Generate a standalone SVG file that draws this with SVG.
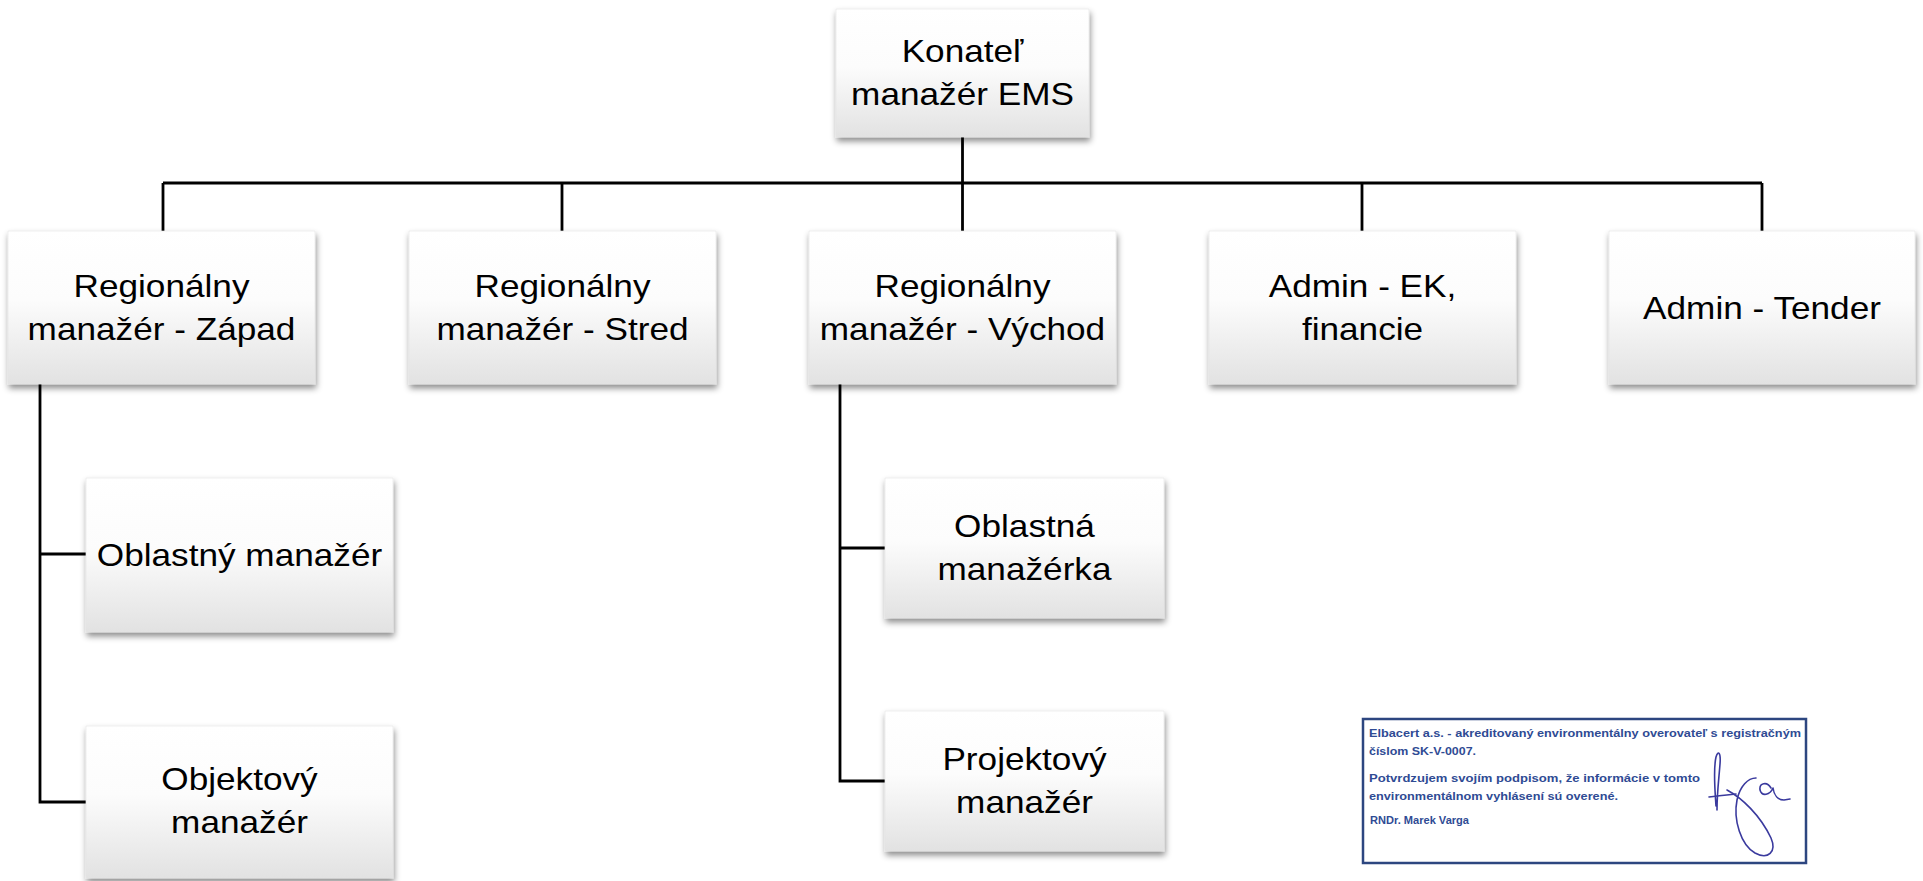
<svg xmlns="http://www.w3.org/2000/svg" width="1923" height="881" viewBox="0 0 1923 881">
<defs>
<linearGradient id="boxg" x1="0" y1="0" x2="0" y2="1">
<stop offset="0" stop-color="#ffffff"/>
<stop offset="0.45" stop-color="#fcfcfc"/>
<stop offset="1" stop-color="#e2e2e2"/>
</linearGradient>
<filter id="sh" x="-10%" y="-10%" width="125%" height="130%">
<feDropShadow dx="1" dy="4" stdDeviation="3" flood-color="#000" flood-opacity="0.45"/>
</filter>
</defs>
<style>
.box{fill:url(#boxg);stroke:#e4e4e4;stroke-width:0.6;filter:url(#sh)}
.t{font-family:"Liberation Sans",Arial,sans-serif;font-size:31px;fill:#000;text-anchor:middle}
.c{fill:none;stroke:#000;stroke-width:2.8}
.s{font-family:"Liberation Sans",Arial,sans-serif;font-size:11px;font-weight:bold;fill:#2f4b94}
.sig{fill:none;stroke:#3a3a9e;stroke-width:1.6;stroke-linecap:round;stroke-linejoin:round}
</style>
<rect width="1923" height="881" fill="#fff"/>
<g id="connectors">
<path class="c" d="M962.5,137 V231"/>
<path class="c" d="M163,183 H1762"/>
<path class="c" d="M163,183 V231 M562,183 V231 M1362,183 V231 M1762,183 V231"/>
<path class="c" d="M40,384 V802 H86 M40,554 H86"/>
<path class="c" d="M840,384 V781 H885 M840,548 H885"/>
</g>
<g id="n-konatel">
<rect class="box" x="836" y="9" width="253" height="128"/>
<text class="t" transform="translate(962.5,62) scale(1.135,1)">Konateľ</text>
<text class="t" transform="translate(962.5,105) scale(1.135,1)">manažér EMS</text>
</g>
<g id="n-zapad">
<rect class="box" x="8" y="231" width="307" height="153"/>
<text class="t" transform="translate(161.5,297) scale(1.135,1)">Regionálny</text>
<text class="t" transform="translate(161.5,340) scale(1.135,1)">manažér - Západ</text>
</g>
<g id="n-stred">
<rect class="box" x="409" y="231" width="307" height="153"/>
<text class="t" transform="translate(562.5,297) scale(1.135,1)">Regionálny</text>
<text class="t" transform="translate(562.5,340) scale(1.135,1)">manažér - Stred</text>
</g>
<g id="n-vychod">
<rect class="box" x="809" y="231" width="307" height="153"/>
<text class="t" transform="translate(962.5,297) scale(1.135,1)">Regionálny</text>
<text class="t" transform="translate(962.5,340) scale(1.135,1)">manažér - Východ</text>
</g>
<g id="n-admin-ek">
<rect class="box" x="1209" y="231" width="307" height="153"/>
<text class="t" transform="translate(1362.5,297) scale(1.135,1)">Admin - EK,</text>
<text class="t" transform="translate(1362.5,340) scale(1.135,1)">financie</text>
</g>
<g id="n-admin-tender">
<rect class="box" x="1609" y="231" width="306" height="153"/>
<text class="t" transform="translate(1762,319) scale(1.135,1)">Admin - Tender</text>
</g>
<g id="n-oblastny">
<rect class="box" x="86" y="478" width="307" height="154"/>
<text class="t" transform="translate(239.5,566) scale(1.135,1)">Oblastný manažér</text>
</g>
<g id="n-objektovy">
<rect class="box" x="86" y="726" width="307" height="152"/>
<text class="t" transform="translate(239.5,790) scale(1.135,1)">Objektový</text>
<text class="t" transform="translate(239.5,833) scale(1.135,1)">manažér</text>
</g>
<g id="n-oblastna">
<rect class="box" x="885" y="478" width="279" height="140"/>
<text class="t" transform="translate(1024.5,537) scale(1.135,1)">Oblastná</text>
<text class="t" transform="translate(1024.5,580) scale(1.135,1)">manažérka</text>
</g>
<g id="n-projektovy">
<rect class="box" x="885" y="711" width="279" height="140"/>
<text class="t" transform="translate(1024.5,770) scale(1.135,1)">Projektový</text>
<text class="t" transform="translate(1024.5,813) scale(1.135,1)">manažér</text>
</g>
<g id="stamp">
<rect x="1363" y="719" width="443" height="144" fill="#fff" stroke="#2d4680" stroke-width="2.5"/>
<text class="s" x="1369" y="737" textLength="432" lengthAdjust="spacingAndGlyphs">Elbacert a.s. - akreditovaný environmentálny overovateľ s registračným</text>
<text class="s" x="1369" y="755" textLength="107" lengthAdjust="spacingAndGlyphs">číslom SK-V-0007.</text>
<text class="s" x="1369" y="782" textLength="331" lengthAdjust="spacingAndGlyphs">Potvrdzujem svojím podpisom, že informácie v tomto</text>
<text class="s" x="1369" y="800" textLength="249" lengthAdjust="spacingAndGlyphs">environmentálnom vyhlásení sú overené.</text>
<text class="s" x="1370" y="824" font-size="10" textLength="99" lengthAdjust="spacingAndGlyphs">RNDr. Marek Varga</text>
<path class="sig" d="M1716,806 C1715,790 1713,770 1716,757 C1718,750 1721,752 1720,764 C1719,778 1717,792 1717,810"/>
<path class="sig" d="M1709,797 C1716,796 1726,795 1736,794"/>
<path class="sig" d="M1727,790 C1742,798 1760,815 1771,838 C1777,852 1768,860 1755,853 C1741,845 1733,820 1737,800 C1740,786 1748,778 1756,778"/>
<path class="sig" d="M1771,788 C1767,781 1759,783 1760,790 C1762,797 1770,795 1773,788 C1774,795 1778,800 1784,800 L1790,799"/>
</g>
</svg>
